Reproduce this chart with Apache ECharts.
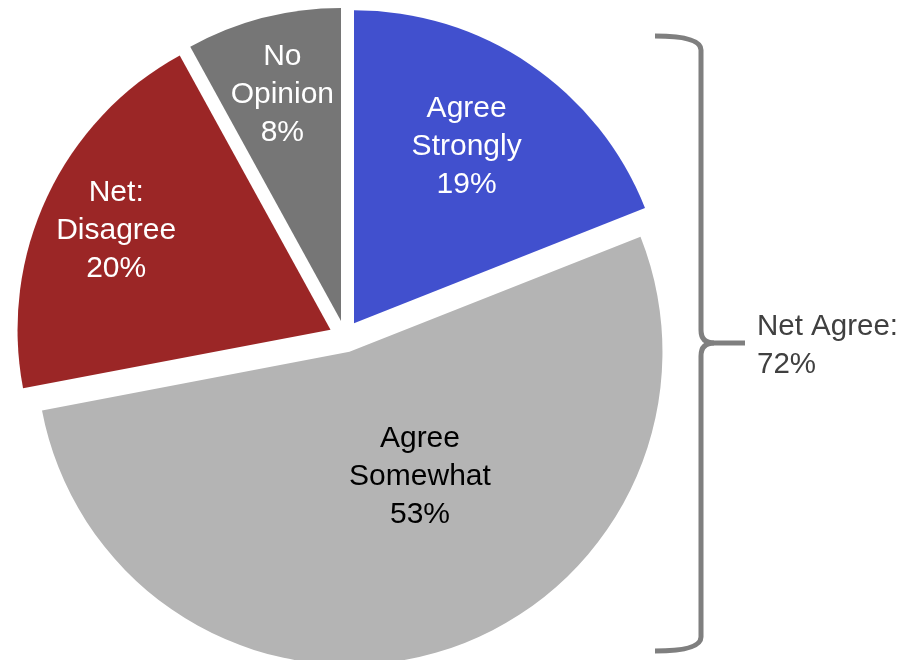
<!DOCTYPE html>
<html>
<head>
<meta charset="utf-8">
<script src="https://cdn.jsdelivr.net/npm/echarts@6/dist/echarts.min.js"></script>
<style>
  html, body { margin: 0; padding: 0; background: #fff; }
  #chart { width: 919px; height: 660px; }
</style>
</head>
<body>
<div id="chart"></div>
<script>
// slices, clockwise from 12 o'clock
const categories = ["Agree\nStrongly", "Agree\nSomewhat", "Net:\nDisagree", "No\nOpinion"];
const values = [19, 53, 20, 8];
const netAgreeLabel = "Net Agree:";
const netAgreeValue = 72;

const colors = ["#4150CE", "#B4B4B4", "#9B2626", "#767676"];
const labelColors = ["#fff", "#000", "#fff", "#fff"];
// nudge the inside labels to where they sit in the original
const labelOffsets = [[23, -45], [26, -28], [-70, -31], [-19, -72]];

const font = '"Liberation Sans", Arial, sans-serif';
const braceStyle = { stroke: "#7F7F7F", lineWidth: 5, fill: null };

const chart = echarts.init(document.getElementById("chart"));

// curly brace on the right, built from lines and curves
const brace = [
  { type: "bezierCurve", shape: { x1: 655, y1: 36, cpx1: 701, cpy1: 36, x2: 701, y2: 50 } },
  { type: "line", shape: { x1: 701, y1: 50, x2: 701, y2: 330 } },
  { type: "bezierCurve", shape: { x1: 701, y1: 330, cpx1: 701, cpy1: 343, x2: 714, y2: 343 } },
  { type: "line", shape: { x1: 714, y1: 343, x2: 745, y2: 343 } },
  { type: "bezierCurve", shape: { x1: 714, y1: 343, cpx1: 701, cpy1: 343, x2: 701, y2: 356 } },
  { type: "line", shape: { x1: 701, y1: 356, x2: 701, y2: 637 } },
  { type: "bezierCurve", shape: { x1: 701, y1: 637, cpx1: 701, cpy1: 651, x2: 655, y2: 651 } },
].map(el => ({ ...el, style: braceStyle, silent: true }));

chart.setOption({
  animation: false,
  series: [
    {
      type: "pie",
      center: [345, 336.5],
      radius: 313,
      startAngle: 90,
      clockwise: true,
      selectedMode: "multiple",
      selectedOffset: 16,
      emphasis: { disabled: true },
      labelLine: { show: false },
      label: {
        show: true,
        position: "inside",
        formatter: "{b}\n{c}%",
        fontFamily: font,
        fontSize: 30,
        lineHeight: 38,
        align: "center",
      },
      labelLayout(params) {
        const off = labelOffsets[params.dataIndex];
        return { dx: off[0], dy: off[1] };
      },
      data: categories.map((name, i) => ({
        name,
        value: values[i],
        selected: true,
        itemStyle: { color: colors[i] },
        label: { color: labelColors[i] },
      })),
    },
  ],
  graphic: [
    ...brace,
    {
      type: "text",
      x: 757,
      y: 346,
      style: {
        text: netAgreeLabel + "\n" + netAgreeValue + "%",
        fill: "#404040",
        font: "29.5px " + font,
        lineHeight: 38,
        verticalAlign: "middle",
        align: "left",
      },
    },
  ],
});

window.addEventListener("resize", () => {
  chart.resize();
});
</script>
</body>
</html>
